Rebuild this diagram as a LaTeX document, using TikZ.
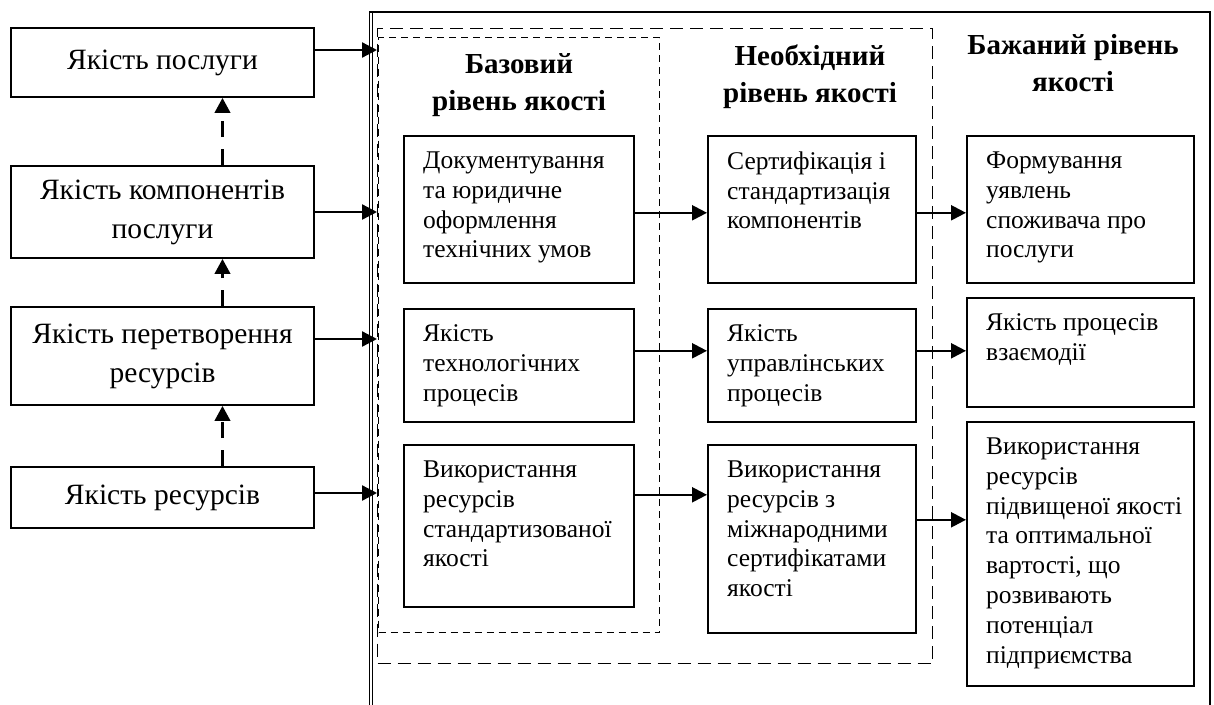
\documentclass[tikz,border=0pt]{standalone}
\usepackage{fontspec}
\setmainfont{Liberation Serif}
\usetikzlibrary{arrows.meta}

\begin{document}
\begin{tikzpicture}[x=1pt,y=-1pt,
    lbox/.style={draw,line width=1.6pt,minimum width=303pt,align=center,font=\fontsize{29.5}{39}\selectfont},
    qbox/.style={draw,line width=1.6pt,anchor=north west,inner sep=0pt},
    qtxt/.style={anchor=north west,align=left,inner xsep=20pt,inner ysep=16.5pt,font=\fontsize{25.5}{29.8}\selectfont},
    head/.style={align=center,font=\bfseries\fontsize{29}{37}\selectfont},
    zone/.style={draw,line width=1.4pt,anchor=north west,inner sep=0pt},
    arr/.style={-{Triangle[length=15pt,width=15pt]},line width=2.3pt},
    darr/.style={-{Triangle[length=15pt,width=15pt]},line width=3.5pt,dash pattern=on 16pt off 12pt}]
    \useasboundingbox (0,0) rectangle (1214,704);

    % Outer frame (open at the bottom) and the two dashed zones
    \draw[line width=1.6pt] (369.5,720) -- (369.5,12) -- (1210,12) -- (1210,720);
    \draw[line width=1.2pt] (372.5,13) -- (372.5,720);
    \node[zone,dash pattern=on 13pt off 7pt,minimum width=555pt,minimum height=635pt] (reqzone) at (377,28) {};
    \node[zone,dash pattern=on 7pt off 5pt,minimum width=281pt,minimum height=595pt] (basezone) at (378,37) {};

    % Left column: levels of quality
    \node[lbox,minimum height=69pt] (svc) at (162.5,62.5) {Якість послуги};
    \node[lbox,minimum height=92pt] (comp) at (162.5,212) {Якість компонентів\\послуги};
    \node[lbox,minimum height=98pt] (conv) at (162.5,356) {Якість перетворення\\ресурсів};
    \node[lbox,minimum height=61pt] (res) at (162.5,497.5) {Якість ресурсів};

    \draw[darr] ([xshift=60pt]comp.north) -- ([xshift=60pt]svc.south);
    \draw[darr] ([xshift=60pt]conv.north) -- ([xshift=60pt]comp.south);
    \draw[darr] ([xshift=60pt]res.north) -- ([xshift=60pt]conv.south);

    \draw[arr] ([yshift=12.5pt]svc.east) -- ([yshift=12.5pt]svc.east -| reqzone.west);
    \draw[arr] (comp.east) -- (comp.east -| reqzone.west);
    \draw[arr] ([yshift=17pt]conv.east) -- ([yshift=17pt]conv.east -| reqzone.west);
    \draw[arr] ([yshift=4.5pt]res.east) -- ([yshift=4.5pt]res.east -| reqzone.west);

    % Headings
    \node[head] (basehd) at (519,85) {Базовий\\рівень якості};
    \node[head] (reqhd) at (810,77) {Необхідний\\рівень якості};
    \node[head] (deshd) at (1073,63) {Бажаний рівень\\якості};

    % Basic level
    \node[qbox,minimum width=230pt,minimum height=147pt,
      label={[qtxt]north west:Документування\\та юридичне\\оформлення\\технічних умов}] (doc) at (403,135) {};
    \node[qbox,minimum width=230pt,minimum height=113pt,
      label={[qtxt]north west:Якість\\технологічних\\процесів}] (tech) at (403,308) {};
    \node[qbox,minimum width=230pt,minimum height=162pt,
      label={[qtxt]north west:Використання\\ресурсів\\стандартизованої\\якості}] (stdres) at (403,444) {};

    % Required level
    \node[qbox,minimum width=208pt,minimum height=147pt,
      label={[qtxt]north west:Сертифікація і\\стандартизація\\компонентів}] (cert) at (707,135) {};
    \node[qbox,minimum width=208pt,minimum height=113pt,
      label={[qtxt]north west:Якість\\управлінських\\процесів}] (mgmt) at (707,308) {};
    \node[qbox,minimum width=208pt,minimum height=188pt,
      label={[qtxt]north west:Використання\\ресурсів з\\міжнародними\\сертифікатами\\якості}] (intlres) at (707,444) {};

    % Desired level
    \node[qbox,minimum width=227pt,minimum height=147pt,
      label={[qtxt]north west:Формування\\уявлень\\споживача про\\послуги}] (image) at (966,135) {};
    \node[qbox,minimum width=227pt,minimum height=109pt,
      label={[qtxt]north west:Якість процесів\\взаємодії}] (inter) at (966,297) {};
    \node[qbox,minimum width=227pt,minimum height=264pt,
      label={[qtxt]north west:Використання\\ресурсів\\підвищеної якості\\та оптимальної\\вартості, що\\розвивають\\потенціал\\підприємства}] (advres) at (966,421) {};

    % Arrows between levels
    \draw[arr] ([yshift=-3.5pt]doc.east) -- ([yshift=-3.5pt]cert.west);
    \draw[arr] ([yshift=-3.5pt]cert.east) -- ([yshift=-3.5pt]image.west);
    \draw[arr] ([yshift=14.5pt]tech.east) -- ([yshift=14.5pt]mgmt.west);
    \draw[arr] ([yshift=14.5pt]mgmt.east) -- ([yshift=14.5pt]mgmt.east -| inter.west);
    \draw[arr] ([yshift=31pt]stdres.east) -- ([yshift=31pt]stdres.east -| intlres.west);
    \draw[arr] ([yshift=19pt]intlres.east) -- ([yshift=19pt]intlres.east -| advres.west);
  \end{tikzpicture}
\end{document}
